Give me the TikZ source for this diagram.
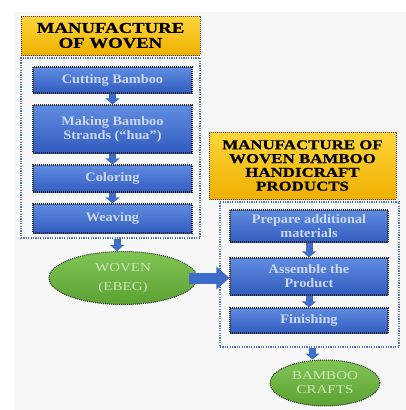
\documentclass[tikz,border=0pt]{standalone}
\usepackage{fontspec}
\setmainfont{Liberation Serif}
\newfontfamily\headfont[FakeStretch=1.25,BoldFeatures={FakeBold=0.8}]{Liberation Serif}
\newfontfamily\ovalfont[FakeStretch=1.25]{Liberation Serif}
\newfontfamily\stepfont[FakeStretch=1.1]{Liberation Serif}
\usetikzlibrary{shapes.geometric,arrows.meta,calc}

\definecolor{pagegray}{RGB}{247,247,247}
\definecolor{goldA}{RGB}{255,214,60}
\definecolor{goldB}{RGB}{238,176,0}
\definecolor{blueA}{RGB}{96,140,226}
\definecolor{blueB}{RGB}{50,92,190}
\definecolor{steptext}{RGB}{204,215,244}
\definecolor{greenA}{RGB}{128,196,84}
\definecolor{greenB}{RGB}{92,162,50}
\definecolor{ovaltext}{RGB}{205,232,190}
\definecolor{frameblue}{RGB}{80,116,184}
\definecolor{arrowblue}{RGB}{62,108,200}

\begin{document}
\begin{tikzpicture}[x=1pt,y=-1pt,
  titlebox/.style={rectangle, top color=goldA, bottom color=goldB,
    draw=black!75, dash pattern=on 0.8pt off 1.2pt, line width=0.9pt,
    inner sep=0pt, align=center, text=black},
  stepbox/.style={rectangle, top color=blueA, bottom color=blueB,
    draw=black!85, dash pattern=on 1pt off 1pt, line width=1.1pt,
    minimum width=159pt, inner sep=0pt, align=center, text=steptext,
    font=\stepfont\bfseries\fontsize{13}{14}\selectfont},
  oval/.style={ellipse, top color=greenA, bottom color=greenB,
    draw=black!85, dash pattern=on 1pt off 1pt, line width=1pt,
    inner sep=0pt, align=center, text=ovaltext,
    font=\ovalfont\fontsize{12}{14}\selectfont},
  groupframe/.style={rectangle, draw=frameblue, line width=1.3pt,
    dash pattern=on 1.2pt off 1.2pt, inner sep=0pt},
  stepflow/.style={draw=arrowblue, line width=7pt,
    -{Triangle[width=14pt, length=6pt]}},
  bigflow/.style={draw=arrowblue, line width=11pt,
    -{Triangle[width=22pt, length=13pt]}}
]
\useasboundingbox (0,0) rectangle (406,410);
\fill[pagegray] (14,12) rectangle (406,410);

% left group: weaving
\node[titlebox, minimum width=179pt, minimum height=39pt,
  font=\headfont\bfseries\fontsize{15}{15}\selectfont]
  (t1) at (110.5,35.5) {MANUFACTURE\\OF WOVEN};
\node[groupframe, minimum width=179pt, minimum height=180pt] (c1) at (110.5,148) {};
\node[stepbox, minimum height=26pt] (b1) at (112.5,80) {Cutting Bamboo};
\node[stepbox, minimum height=48pt] (b2) at (112.5,129) {Making Bamboo\\Strands (“hua”)};
\node[stepbox, minimum height=27pt] (b3) at (112.5,178.5) {Coloring};
\node[stepbox, minimum height=29pt] (b4) at (112.5,218.5) {Weaving};

\node[oval, minimum width=148pt, minimum height=53pt] (e1) at (123,278)
  {WOVEN\\[5pt](EBEG)};

% right group: handicraft products
\node[titlebox, minimum width=187pt, minimum height=67pt,
  font=\headfont\bfseries\fontsize{13.5}{13.8}\selectfont]
  (t2) at (302.5,165.5) {MANUFACTURE OF\\WOVEN BAMBOO\\HANDICRAFT\\PRODUCTS};
\node[groupframe, minimum width=179pt, minimum height=145pt] (c2) at (309.5,274.5) {};
\node[stepbox, minimum width=158pt, minimum height=32pt] (r1) at (309,226)
  {Prepare additional\\materials};
\node[stepbox, minimum width=158pt, minimum height=37pt] (r2) at (309,276.5)
  {Assemble the\\Product};
\node[stepbox, minimum width=158pt, minimum height=25pt] (r3) at (309,320.5) {Finishing};

\node[oval, minimum width=110pt, minimum height=46pt] (e2) at (325,383)
  {BAMBOO\\CRAFTS};

% connectors
\draw[stepflow] (b1.south) -- (b2.north);
\draw[stepflow] (b2.south) -- (b3.north);
\draw[stepflow] (b3.south) -- (b4.north);
\draw[stepflow] ([xshift=6.5pt]c1.south) -- ([xshift=6.5pt]c1.south |- e1.north);
\draw[bigflow] ([xshift=-9pt]e1.east) -- (e1.east -| r2.west);
\draw[stepflow] (r1.south) -- (r2.north);
\draw[stepflow] (r2.south) -- (r3.north);
\draw[stepflow] ([xshift=3pt]c2.south) -- ([xshift=3pt]c2.south |- e2.north);
\end{tikzpicture}
\end{document}
